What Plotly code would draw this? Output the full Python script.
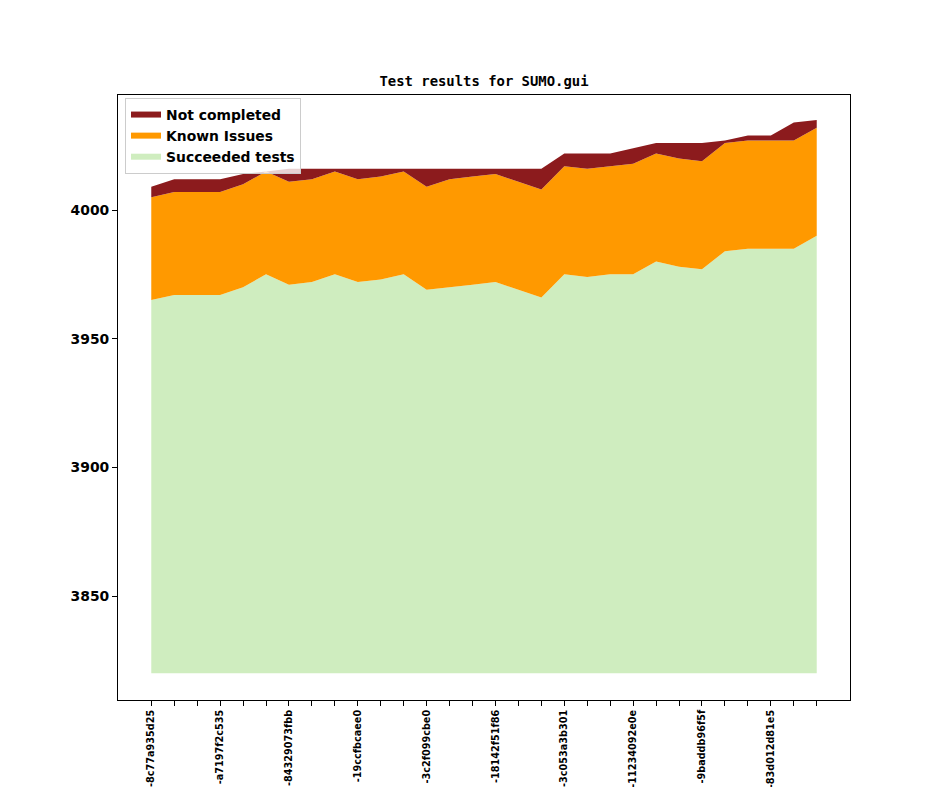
import plotly.graph_objects as go
import numpy as np

# commit labels (only every 3rd build is labelled on the axis)
commits = ["-8c77a935d25", "-a7197f2c535", "-84329073fbb", "-19ccfbcaee0", "-3c2f099cbe0",
           "-18142f51f86", "-3c053a3b301", "-11234092e0e", "-9baddb96f5f", "-83d012d81e5"]

base = 3820
succeeded = [145, 147, 147, 147, 150, 155, 151, 152, 155, 152,
             153, 155, 149, 150, 151, 152, 149, 146, 155, 154,
             155, 155, 160, 158, 157, 164, 165, 165, 165, 170]
known_issues = [40, 40, 40, 40, 40, 40, 40, 40, 40, 40,
                40, 40, 40, 42, 42, 42, 42, 42, 42, 42,
                42, 43, 42, 42, 42, 42, 42, 42, 42, 42]
not_completed = [4, 5, 5, 5, 4, 0, 5, 4, 1, 4,
                 3, 1, 7, 4, 3, 2, 5, 8, 5, 6,
                 5, 6, 4, 6, 7, 1, 2, 2, 7, 3]

x = np.arange(len(succeeded))
ticktext = []
for i in x:
    ticktext.append(commits[i // 3] if i % 3 == 0 else "")

fig = go.Figure()
fig.add_trace(go.Scatter(x=x, y=[base] * len(x), stackgroup="s", mode="none",
                         fillcolor="rgba(0,0,0,0)", showlegend=False, hoverinfo="skip"))
fig.add_trace(go.Scatter(x=x, y=succeeded, stackgroup="s", mode="none",
                         fillcolor="#cfedbf", name="Succeeded tests"))
fig.add_trace(go.Scatter(x=x, y=known_issues, stackgroup="s", mode="none",
                         fillcolor="#ff9900", name="Known Issues"))
fig.add_trace(go.Scatter(x=x, y=not_completed, stackgroup="s", mode="none",
                         fillcolor="#8c1b1d", name="Not completed"))

# page body has an 8px margin, so the figure is a bit smaller than the window
fig.update_layout(
    width=936, height=779,
    margin=dict(l=110, r=94, t=87, b=87),
    plot_bgcolor="white", paper_bgcolor="white",
    font=dict(family="DejaVu Sans", size=14, color="black"),
    title=dict(text="<b>Test results for SUMO.gui</b>", x=0.5, xanchor="center", xref="paper",
               y=1 - 73 / 779, yanchor="middle", yref="container",
               font=dict(family="DejaVu Sans Mono", size=13.9, color="black")),
    legend=dict(x=0.0096, y=0.995, xanchor="left", yanchor="top",
                traceorder="reversed", bgcolor="rgba(255,255,255,0.8)",
                bordercolor="#cccccc", borderwidth=1, itemwidth=30,
                font=dict(family="DejaVu Sans", size=13.9, weight="bold")),
    showlegend=True,
)
fig.update_xaxes(range=[-1.45, 30.45], tickvals=x, ticktext=ticktext, tickangle=-90,
                 ticks="outside", ticklen=5, tickwidth=1, tickcolor="black",
                 showline=True, linecolor="black", linewidth=1, mirror=True,
                 showgrid=False, zeroline=False, automargin=False,
                 tickfont=dict(family="DejaVu Sans", size=9.7, weight="bold"))
fig.update_yaxes(range=[3809.6, 4044.7], dtick=50, tick0=3850,
                 ticks="outside", ticklen=5, tickwidth=1, tickcolor="black",
                 showline=True, linecolor="black", linewidth=1, mirror=True,
                 showgrid=False, zeroline=False, automargin=False,
                 tickfont=dict(family="DejaVu Sans", size=13.9, weight="bold"))

fig.write_html("out.html")
